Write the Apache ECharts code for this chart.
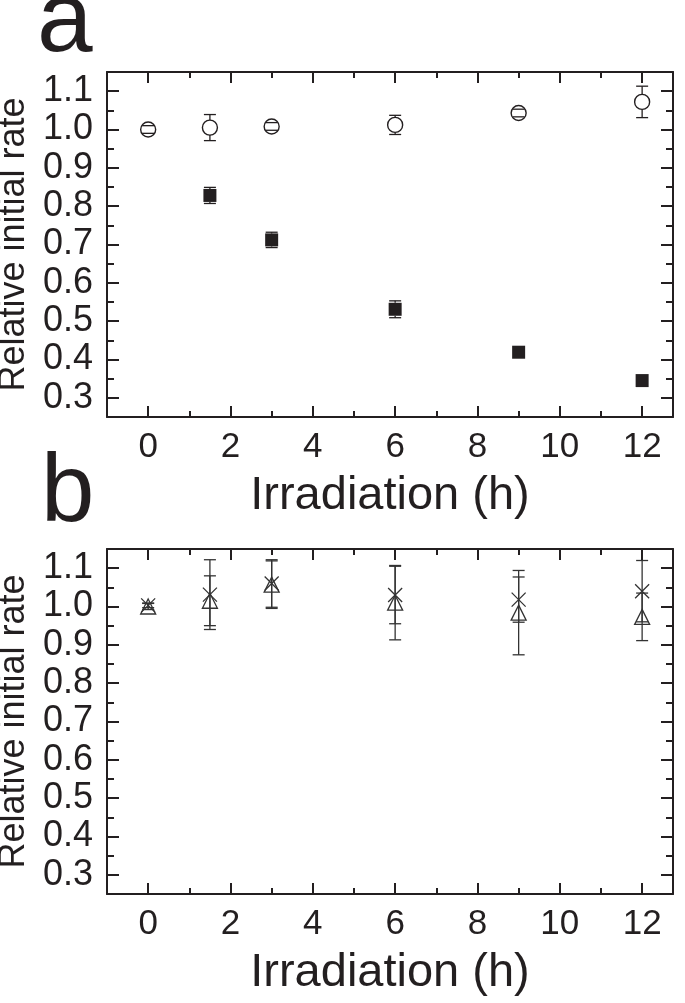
<!DOCTYPE html>
<html>
<head>
<meta charset="utf-8">
<script src="https://cdn.jsdelivr.net/npm/echarts@6/dist/echarts.min.js"></script>
<style>
  html, body { margin: 0; padding: 0; background: #fff; }
  #chart { width: 685px; height: 1003px; }
</style>
</head>
<body>
<div id="chart"></div>
<script>
// irradiation time points (h)
const hours = [0, 1.5, 3, 6, 9, 12]
const filledHours = [1.5, 3, 6, 9, 12]

// panel a
const aOpen = [1.000, 1.005, 1.008, 1.012, 1.043, 1.072]
const aOpenErr = [0.010, 0.034, 0.010, 0.025, 0.010, 0.041]
const aFilled = [0.828, 0.712, 0.531, 0.419, 0.345]
const aFilledErr = [0.021, 0.020, 0.022, 0.006, 0.004]

// panel b
const bTri = [1.000, 1.015, 1.057, 1.010, 0.984, 0.973]
const bTriErr = [0.008, 0.065, 0.062, 0.097, 0.110, 0.062]
const bCross = [1.003, 1.031, 1.060, 1.030, 1.018, 1.040]
const bCrossErr = [0.006, 0.091, 0.062, 0.075, 0.059, 0.080]

// ticks
const xMajor = [0, 2, 4, 6, 8, 10, 12]
const xMinor = [1, 3, 5, 7, 9, 11]
const yMajor = [0.3, 0.4, 0.5, 0.6, 0.7, 0.8, 0.9, 1.0, 1.1]
const yMinor = [0.35, 0.45, 0.55, 0.65, 0.75, 0.85, 0.95, 1.05]

const ink = '#231f20'
const font = 'Liberation Sans, Arial, sans-serif'

const chart = echarts.init(document.getElementById('chart'))

function xAxes (grid) {
  const base = {
    gridIndex: grid,
    type: 'value',
    min: -1,
    max: 12.75,
    splitLine: { show: false },
    axisLine: { onZero: false, lineStyle: { color: ink, width: 2 } }
  }
  return [
    Object.assign({}, base, {
      position: 'bottom',
      name: 'Irradiation (h)',
      nameLocation: 'middle',
      nameGap: 56,
      nameTextStyle: { fontSize: 47, fontFamily: font, color: ink },
      axisTick: { inside: true, length: 11, customValues: xMajor, lineStyle: { color: ink, width: 2 } },
      axisLabel: { customValues: xMajor, fontSize: 35, fontFamily: font, color: ink, margin: 13 }
    }),
    Object.assign({}, base, {
      position: 'bottom',
      axisLine: { show: false, onZero: false },
      axisTick: { inside: true, length: 6, customValues: xMinor, lineStyle: { color: ink, width: 2 } },
      axisLabel: { show: false }
    }),
    Object.assign({}, base, {
      position: 'top',
      axisTick: { inside: true, length: 11, customValues: xMajor, lineStyle: { color: ink, width: 2 } },
      axisLabel: { show: false }
    }),
    Object.assign({}, base, {
      position: 'top',
      axisLine: { show: false, onZero: false },
      axisTick: { inside: true, length: 6, customValues: xMinor, lineStyle: { color: ink, width: 2 } },
      axisLabel: { show: false }
    })
  ]
}

function yAxes (grid) {
  const base = {
    gridIndex: grid,
    type: 'value',
    min: 0.25,
    max: 1.15,
    splitLine: { show: false },
    axisLine: { onZero: false, lineStyle: { color: ink, width: 2 } }
  }
  return [
    Object.assign({}, base, {
      position: 'left',
      name: 'Relative initial rate',
      nameLocation: 'middle',
      nameGap: 70,
      nameTextStyle: { fontSize: 36, fontFamily: font, color: ink },
      axisTick: { inside: true, length: 12, customValues: yMajor, lineStyle: { color: ink, width: 2 } },
      axisLabel: { customValues: yMajor, fontSize: 36, fontFamily: font, color: ink, margin: 14, formatter: v => v.toFixed(1) }
    }),
    Object.assign({}, base, {
      position: 'left',
      axisLine: { show: false, onZero: false },
      axisTick: { inside: true, length: 7, customValues: yMinor, lineStyle: { color: ink, width: 2 } },
      axisLabel: { show: false }
    }),
    Object.assign({}, base, {
      position: 'right',
      axisTick: { inside: true, length: 12, customValues: yMajor, lineStyle: { color: ink, width: 2 } },
      axisLabel: { show: false }
    }),
    Object.assign({}, base, {
      position: 'right',
      axisLine: { show: false, onZero: false },
      axisTick: { inside: true, length: 7, customValues: yMinor, lineStyle: { color: ink, width: 2 } },
      axisLabel: { show: false }
    })
  ]
}

function pairs (xs, ys, errs) {
  return xs.map((x, i) => errs ? [x, ys[i], errs[i]] : [x, ys[i]])
}

// error bars with caps; gap leaves the inside of the marker clear
function errorBars (grid, data, gap, color, hideInside) {
  return {
    type: 'custom',
    xAxisIndex: grid * 4,
    yAxisIndex: grid * 4,
    data: data,
    encode: { x: 0, y: 1 },
    z: 2,
    renderItem (params, api) {
      const x = api.value(0)
      const y = api.value(1)
      const e = api.value(2)
      const mid = api.coord([x, y])
      const top = api.coord([x, y + e])
      const bot = api.coord([x, y - e])
      const hw = 6
      const style = { stroke: color, lineWidth: 1.3 }
      const kids = []
      if (!(hideInside && mid[1] - top[1] < gap)) {
        kids.push({ type: 'line', shape: { x1: mid[0] - hw, y1: top[1], x2: mid[0] + hw, y2: top[1] }, style })
        kids.push({ type: 'line', shape: { x1: mid[0] - hw, y1: bot[1], x2: mid[0] + hw, y2: bot[1] }, style })
      }
      if (mid[1] - top[1] > gap) {
        kids.push({ type: 'line', shape: { x1: mid[0], y1: top[1], x2: mid[0], y2: mid[1] - gap }, style })
        kids.push({ type: 'line', shape: { x1: mid[0], y1: mid[1] + gap, x2: mid[0], y2: bot[1] }, style })
      }
      return { type: 'group', children: kids }
    }
  }
}

function markers (grid, data, symbol, size, style) {
  return {
    type: 'scatter',
    xAxisIndex: grid * 4,
    yAxisIndex: grid * 4,
    data: data,
    symbol: symbol,
    symbolSize: size,
    z: 10,
    itemStyle: Object.assign({ opacity: 1 }, style),
    emphasis: { disabled: true }
  }
}

const crossPath = 'path://M0,0L10,10M10,0L0,10'

chart.setOption({
  animation: false,
  backgroundColor: '#fff',
  grid: [
    { left: 107, top: 72, width: 566, height: 345, containLabel: false, outerBoundsMode: 'none' },
    { left: 107, top: 549, width: 566, height: 345, containLabel: false, outerBoundsMode: 'none' }
  ],
  xAxis: xAxes(0).concat(xAxes(1)),
  yAxis: yAxes(0).concat(yAxes(1)),
  graphic: [
    { type: 'text', left: 37, top: -27, style: { text: 'a', fontSize: 100, fontFamily: font, fill: ink } },
    { type: 'text', left: 41, top: 447, style: { text: 'b', fontSize: 96, fontFamily: font, fill: ink } }
  ],
  series: [
    errorBars(0, pairs(hours, aOpen, aOpenErr), 7.5, ink, false),
    markers(0, pairs(hours, aOpen), 'circle', 15, { color: 'transparent', borderColor: ink, borderWidth: 1.4 }),
    errorBars(0, pairs(filledHours, aFilled, aFilledErr), 6.5, ink, true),
    markers(0, pairs(filledHours, aFilled), 'rect', 13, { color: ink }),
    errorBars(1, pairs(hours, bTri, bTriErr), 0, '#333', false),
    markers(1, pairs(hours, bTri), 'triangle', 15, { color: 'transparent', borderColor: '#333', borderWidth: 1.3 }),
    errorBars(1, pairs(hours, bCross, bCrossErr), 0, '#333', false),
    markers(1, pairs(hours, bCross), crossPath, 14, { color: 'transparent', borderColor: '#333', borderWidth: 1.3 })
  ]
})
</script>
</body>
</html>
